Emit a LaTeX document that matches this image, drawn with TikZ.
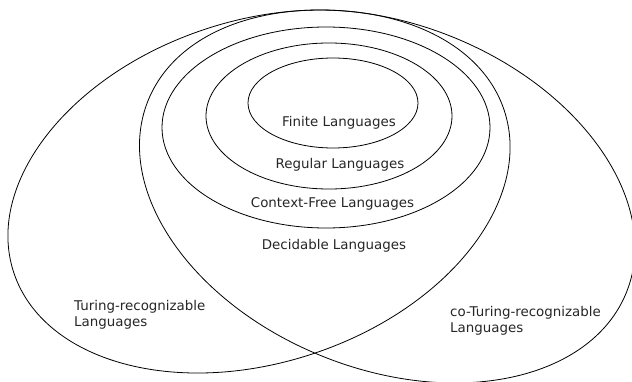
\documentclass[tikz,border=0pt]{standalone}
\usepackage{fontspec}
\setmainfont{DejaVu Sans}
\begin{document}
\begin{tikzpicture}[x=1pt,y=1pt,
  set/.style={draw=black,line width=0.8pt},
  lab/.style={inner sep=0pt,text=black!85,font=\fontsize{13.4}{16}\selectfont},
  lablr/.style={lab,align=left,anchor=west}]
\useasboundingbox (0,0) rectangle (632,381);
% big tilted ellipses
\draw[set,rotate around={18.3:(259,189.5)}] (259,189.5) ellipse (258.3 and 171);
\draw[set,rotate around={-21.76:(387.25,184.5)}] (387.25,184.5) ellipse (257.7 and 172.4);
% nested ellipses
\draw[set] (326,253.5) ellipse (164 and 100.5);
\draw[set] (329,265) ellipse (123 and 73);
\draw[set] (333,278) ellipse (85 and 45);
% labels
\node[lab] (fin) at (339,258) {Finite Languages};
\node[lab] (reg) at (340,216) {Regular Languages};
\node[lab] (cfl) at (332.5,177) {Context-Free Languages};
\node[lab] (dec) at (334,135) {Decidable Languages};
\node[lablr] (tr) at (74,66.3) {Turing-recognizable\\Languages};
\node[lablr] (ctr) at (450,59.8) {co-Turing-recognizable\\Languages};
\end{tikzpicture}
\end{document}
